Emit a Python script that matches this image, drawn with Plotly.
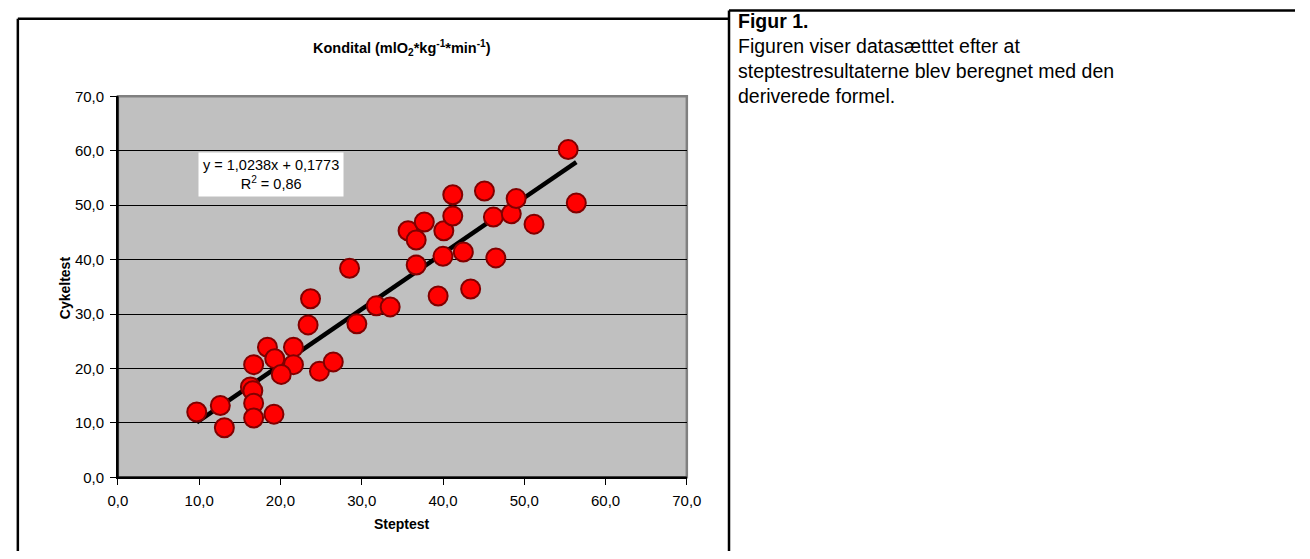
import plotly.graph_objects as go

# Data
steptest = [9.7, 12.6, 13.1, 16.3, 16.6, 16.7, 16.7, 16.7, 19.2, 18.4,
            19.3, 21.6, 21.6, 20.1, 24.8, 26.5, 23.4, 23.7, 28.5, 29.4,
            31.8, 33.5, 35.7, 36.7, 37.7, 40.1, 41.2, 41.2, 45.1, 46.2,
            48.4, 49.0, 51.2, 55.4, 56.4, 40.0, 42.5, 36.7, 46.5, 39.4,
            43.4]
cykeltest = [12.0, 13.2, 9.1, 16.6, 15.9, 20.7, 13.6, 10.9, 11.6, 23.9,
             21.8, 23.9, 20.7, 18.9, 19.5, 21.2, 28.0, 32.8, 38.4, 28.2,
             31.5, 31.3, 45.3, 43.6, 46.9, 45.3, 48.0, 51.9, 52.6, 47.8,
             48.4, 51.2, 46.5, 60.2, 50.4, 40.6, 41.4, 39.0, 40.3, 33.3,
             34.6]
slope = 1.0238
intercept = 0.1773
r2_text = "0,86"
tick_vals = [0, 10, 20, 30, 40, 50, 60, 70]
tick_text = ["0,0", "10,0", "20,0", "30,0", "40,0", "50,0", "60,0", "70,0"]
caption_lines = ["<b>Figur 1.</b>",
                 "Figuren viser datasætttet efter at",
                 "steptestresultaterne blev beregnet med den",
                 "deriverede formel."]

W, H = 1310, 559
FONT = "Liberation Sans, Arial, sans-serif"

def px(x):
    return x / W

def py(y):
    return 1 - y / H

trend_x = [min(steptest), max(steptest)]
trend_y = [slope * v + intercept for v in trend_x]

fig = go.Figure()
fig.add_trace(go.Scatter(
    x=trend_x, y=trend_y, mode="lines",
    line=dict(color="black", width=4.5), hoverinfo="skip", showlegend=False))
fig.add_trace(go.Scatter(
    x=steptest, y=cykeltest, mode="markers",
    marker=dict(size=19, color="#FF0000", line=dict(color="#800000", width=2)),
    showlegend=False))

fig.update_layout(
    margin=dict(l=0, r=0, t=0, b=0),
    paper_bgcolor="white",
    plot_bgcolor="#C0C0C0",
    font=dict(family=FONT, size=15, color="black"),
    showlegend=False,
    xaxis=dict(
        domain=[px(110), px(690)], range=[0, 70],
        tickvals=tick_vals, ticktext=tick_text,
        showgrid=False, zeroline=False,
        showline=True, linecolor="black", linewidth=1.5,
        ticks="outside", ticklen=6, tickcolor="black",
        tickfont=dict(size=15), ticklabelstandoff=3,
    ),
    yaxis=dict(
        domain=[py(483), py(90)], range=[0, 70],
        tickvals=tick_vals, ticktext=tick_text,
        showgrid=True, gridcolor="black", gridwidth=1,
        zeroline=False,
        showline=True, linecolor="black", linewidth=1.5,
        ticks="outside", ticklen=6, tickcolor="black",
        tickfont=dict(size=15), ticklabelstandoff=3,
    ),
)

# plot-area frame (grey) on top/right
fig.add_shape(type="rect", xref="x domain", yref="y domain", x0=0, x1=1, y0=0, y1=1,
              line=dict(color="#808080", width=2.5), layer="below")
fig.add_shape(type="line", xref="x domain", yref="y domain", x0=0, x1=0, y0=0, y1=1,
              line=dict(color="black", width=1.5))
fig.add_shape(type="line", xref="x domain", yref="y domain", x0=0, x1=1, y0=0, y1=0,
              line=dict(color="black", width=1.5))

# outer borders
border = dict(color="black", width=2.5)
fig.add_shape(type="line", xref="paper", yref="paper", x0=px(8), x1=px(8), y0=py(10), y1=0, line=border)
fig.add_shape(type="line", xref="paper", yref="paper", x0=px(8), x1=px(733), y0=py(10), y1=py(10), line=border)
fig.add_shape(type="line", xref="paper", yref="paper", x0=px(733), x1=1, y0=py(1.5), y1=py(1.5), line=border)
fig.add_shape(type="line", xref="paper", yref="paper", x0=px(733), x1=px(733), y0=py(1.5), y1=0, line=border)

# title
fig.add_annotation(
    xref="paper", yref="paper", x=px(400), y=py(40), xanchor="center", yanchor="middle",
    text="<b>Kondital (mlO<sub>2</sub>*kg<sup>-1</sup>*min<sup>-1</sup>)</b>",
    showarrow=False, font=dict(size=14.5))

# axis titles
fig.add_annotation(
    xref="paper", yref="paper", x=px(400), y=py(531), xanchor="center", yanchor="middle",
    text="<b>Steptest</b>", showarrow=False, font=dict(size=14))
fig.add_annotation(
    xref="paper", yref="paper", x=px(56), y=py(287), xanchor="center", yanchor="middle",
    text="<b>Cykeltest</b>", showarrow=False, font=dict(size=14), textangle=-90)

# trendline label
fig.add_annotation(
    xref="paper", yref="paper", x=px(266), y=py(171), xanchor="center", yanchor="middle",
    text=f"y = {str(slope).replace('.', ',')}x + {str(intercept).replace('.', ',')}<br>R<sup>2</sup> = {r2_text}",
    showarrow=False, font=dict(size=14.5), bgcolor="white", borderpad=4, align="center")

# caption panel
for i, line in enumerate(caption_lines):
    fig.add_annotation(
        xref="paper", yref="paper", x=px(740), y=py(12 + 25.8 * i), xanchor="left", yanchor="middle",
        text=line, showarrow=False, align="left", font=dict(size=19.5))

fig.write_html(
    "out.html",
    config={"displayModeBar": False},
    default_width=f"{W}px; position:absolute; left:0; top:0",
    default_height=f"{H}px",
)
